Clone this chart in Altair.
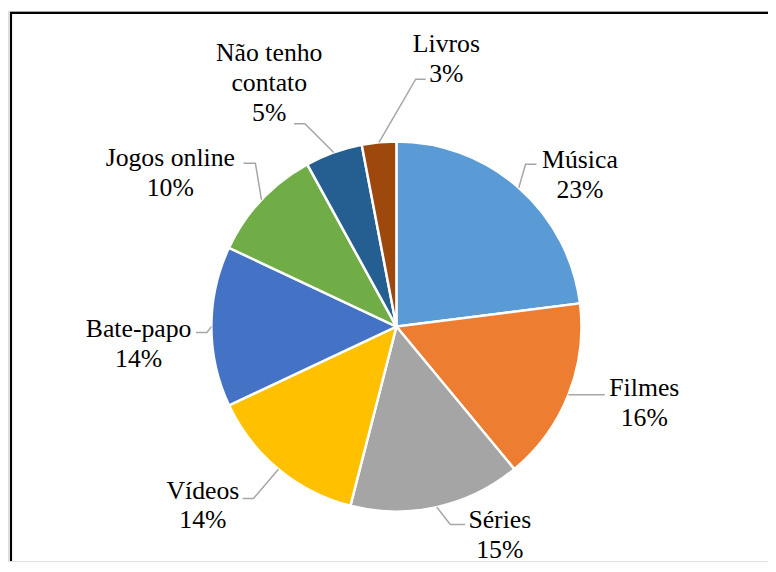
import math
import altair as alt
import pandas as pd

# ---------------- data ----------------
categories = ["Música", "Filmes", "Séries", "Vídeos", "Bate-papo",
              "Jogos online", "Não tenho contato", "Livros"]
label_text = ["Música", "Filmes", "Séries", "Vídeos", "Bate-papo",
              "Jogos online", "Não tenho\ncontato", "Livros"]
values = [23, 16, 15, 14, 14, 10, 5, 3]
colors = ["#5B9BD5", "#ED7D31", "#A5A5A5", "#FFC000", "#4472C4",
          "#70AD47", "#255E91", "#9E480E"]

# ---------------- layout (pixels relative to pie centre, y upward) ----------------
W, H = 768, 556
CX, CY = 392.5, 319          # pie centre inside the plot area
R = 187                      # pie radius
LINE_H = 30
FONT = "Liberation Serif"
label_pos = [(185.5, 153), (250.5, -77), (104.5, -211), (-195.5, -181),
             (-260.5, -18), (-228.5, 155), (-128.5, 246), (50.5, 270)]
leader_end = [(141.5, 164), (210.5, -69), (69.5, -200), (-155.5, -173.7),
              (-202.5, -6), (-154.5, 165), (-103.5, 205), (29.5, 250)]
elbow_dx = [-11, -11, -15, 11, 11, 12, 11, -10]

xs = alt.Scale(domain=[-CX, W - CX], range=[0, W], nice=False, zero=False)
ys = alt.Scale(domain=[-(H - CY), CY], range=[H, 0], nice=False, zero=False)

total = sum(values)
pie_df = pd.DataFrame({"cat": categories, "value": values, "idx": range(len(values))})

lab_rows = []
lead_rows = []
cum = 0
for i, (c, t, v) in enumerate(zip(categories, label_text, values)):
    mid = (cum + v / 2) / total * 2 * math.pi
    cum += v
    lx, ly = label_pos[i]
    lines = t.split("\n") + [f"{v}%"]
    n = len(lines)
    for j, line in enumerate(lines):
        lab_rows.append({"cat": c, "text": line, "x": lx,
                         "y": ly + ((n - 1) / 2 - j) * LINE_H})
    ex, ey = leader_end[i]
    p0 = (R * math.sin(mid), R * math.cos(mid))
    pts = [p0, (ex + elbow_dx[i], ey), (ex, ey)]
    for k, (px, py) in enumerate(pts):
        lead_rows.append({"cat": c, "k": k, "x": px, "y": py})
lab_df = pd.DataFrame(lab_rows)
lead_df = pd.DataFrame(lead_rows)

arcs = alt.Chart(pie_df).mark_arc(outerRadius=R, stroke="white", strokeWidth=2.5).encode(
    theta=alt.Theta("value:Q", stack=True),
    color=alt.Color("cat:N", scale=alt.Scale(domain=categories, range=colors), legend=None),
    order=alt.Order("idx:Q"),
    x=alt.datum(0, scale=xs, axis=None),
    y=alt.datum(0, scale=ys, axis=None),
)

leaders = alt.Chart(lead_df).mark_line(color="#A6A6A6", strokeWidth=1.5).encode(
    x=alt.X("x:Q", scale=xs, axis=None),
    y=alt.Y("y:Q", scale=ys, axis=None),
    detail="cat:N",
    order="k:Q",
)

labels = alt.Chart(lab_df).mark_text(
    font=FONT, fontSize=26, align="center", baseline="middle", color="#000000",
).encode(
    x=alt.X("x:Q", scale=xs, axis=None),
    y=alt.Y("y:Q", scale=ys, axis=None),
    text="text:N",
)

one = pd.DataFrame({"a": [0]})
border_top = alt.Chart(one).mark_rule(color="black", strokeWidth=2.2).encode(
    x=alt.value(2), x2=alt.value(W), y=alt.value(2))
border_left = alt.Chart(one).mark_rule(color="black", strokeWidth=2.2).encode(
    x=alt.value(3), y=alt.value(1), y2=alt.value(H))

chart = alt.layer(arcs, leaders, labels, border_top, border_left).properties(
    width=W, height=H, padding=0, autosize=alt.AutoSizeParams(type="none"),
    background="white",
).configure_view(stroke=None).configure(font=FONT)

chart.save("out.html", embed_options={"renderer": "svg", "actions": False})
